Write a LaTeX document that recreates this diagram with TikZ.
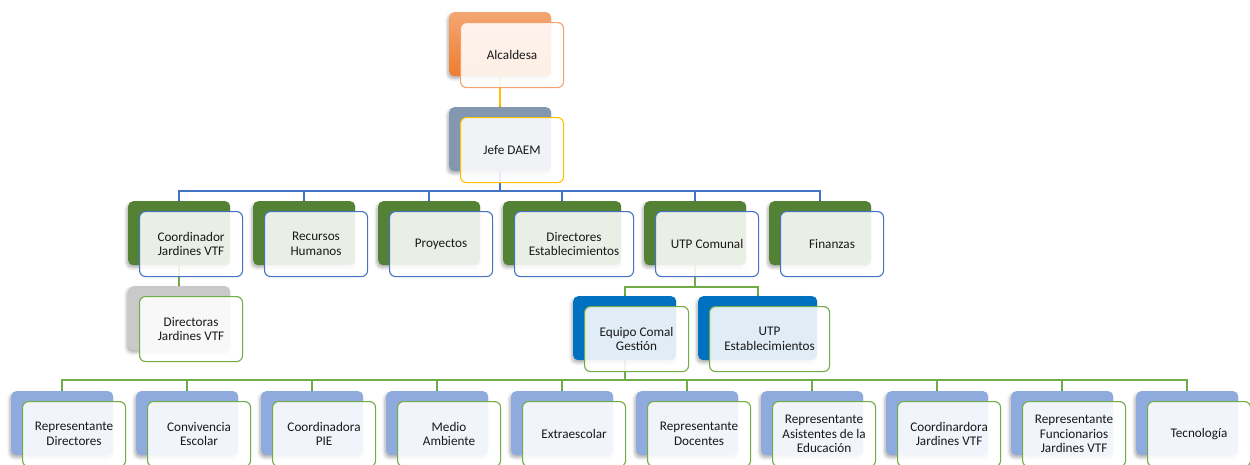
\documentclass[tikz,border=0pt]{standalone}
\usepackage{fontspec}
\setmainfont{Carlito}
\usetikzlibrary{shadows.blur}
\pgfdeclarelayer{bg}
\pgfsetlayers{bg,main}
\definecolor{orD}{HTML}{ED7D31}
\definecolor{orL}{HTML}{F4A672}
\definecolor{orB}{HTML}{F3A06B}
\definecolor{jefeback}{HTML}{8497B0}
\definecolor{gold}{HTML}{FFC000}
\definecolor{grn}{HTML}{548235}
\definecolor{bluB}{HTML}{4472C4}
\definecolor{gry}{HTML}{C9C9C9}
\definecolor{grnB}{HTML}{70AD47}
\definecolor{bluback}{HTML}{0070C0}
\definecolor{ltblu}{HTML}{8FAADC}
\newcommand{\pairbox}[7]{%
  \node[backbox,#5,minimum width=#4pt] (#1B) at (#2,#3) {};
  \node[frontbox,#6,minimum width=#4pt+1pt] (#1F) at ([xshift=11pt,yshift=-10pt]#1B.north west) {#7};
}
\tikzset{
  backbox/.style={anchor=north west, rounded corners=5pt, minimum height=64pt,
    inner sep=0pt, draw=none,
    blur shadow={shadow xshift=-1.5pt, shadow yshift=-2.5pt, shadow blur radius=3pt, shadow opacity=30}},
  frontbox/.style={anchor=north west, rounded corners=6pt, minimum height=65pt,
    inner sep=1pt, fill=white, fill opacity=0.88, text opacity=1, draw opacity=1,
    line width=1.1pt, align=center, text=black!90,
    font=\fontsize{13.2}{14.5}\selectfont},
  bkor/.style={top color=orL, bottom color=orD},
  bkjefe/.style={fill=jefeback},
  bkgrn/.style={fill=grn},
  bkgry/.style={fill=gry},
  bkblu/.style={fill=bluback},
  bkltb/.style={fill=ltblu},
  fror/.style={draw=orB},
  frgold/.style={draw=gold},
  frblu/.style={draw=bluB},
  frgrn/.style={draw=grnB},
  conn/.style={line width=2.3pt},
  cgold/.style={conn, draw=gold},
  cblu/.style={conn, draw=bluB},
  cgrn/.style={conn, draw=grnB},
}
\begin{document}
\begin{tikzpicture}[x=1pt,y=-1pt]
\useasboundingbox (0,0) rectangle (1250,464);
\clip (0,0) rectangle (1250,464);
% top
\pairbox{alc}{449}{12}{102}{bkor}{fror}{Alcaldesa}
\pairbox{jefe}{449}{107}{102}{bkjefe}{frgold}{Jefe DAEM}
% level 2
\pairbox{coord}{128}{201}{102}{bkgrn}{frblu}{Coordinador\\Jardines VTF}
\pairbox{rrhh}{253}{201}{102}{bkgrn}{frblu}{Recursos\\Humanos}
\pairbox{proy}{378}{201}{102}{bkgrn}{frblu}{Proyectos}
\pairbox{dir}{503}{201}{118}{bkgrn}{frblu}{Directores\\Establecimientos}
\pairbox{utp}{644}{201}{102}{bkgrn}{frblu}{UTP Comunal}
\pairbox{fin}{769}{201}{102}{bkgrn}{frblu}{Finanzas}
% level 3
\pairbox{dirj}{128}{286}{102}{bkgry}{frgrn}{Directoras\\Jardines VTF}
\pairbox{eq}{573}{296}{103}{bkblu}{frgrn}{Equipo Comal\\Gestión}
\pairbox{utpe}{698}{296}{119}{bkblu}{frgrn}{UTP\\Establecimientos}
% bottom
\pairbox{b1}{11}{391}{102}{bkltb}{frgrn}{Representante\\Directores}
\pairbox{b2}{136}{391}{102}{bkltb}{frgrn}{Convivencia\\Escolar}
\pairbox{b3}{261}{391}{102}{bkltb}{frgrn}{Coordinadora\\PIE}
\pairbox{b4}{386}{391}{102}{bkltb}{frgrn}{Medio\\Ambiente}
\pairbox{b5}{511}{391}{102}{bkltb}{frgrn}{Extraescolar}
\pairbox{b6}{636}{391}{102}{bkltb}{frgrn}{Representante\\Docentes}
\pairbox{b7}{761}{391}{102}{bkltb}{frgrn}{Representante\\Asistentes de la\\Educación}
\pairbox{b8}{886}{391}{102}{bkltb}{frgrn}{Coordinardora\\Jardines VTF}
\pairbox{b9}{1011}{391}{102}{bkltb}{frgrn}{Representante\\Funcionarios\\Jardines VTF}
\pairbox{b10}{1136}{391}{102}{bkltb}{frgrn}{Tecnología}
% connectors
\begin{pgfonlayer}{bg}
\draw[cgold] (alcB.south) -- (jefeB.north);
\foreach \c in {coord,rrhh,proy,dir,utp,fin}
  \draw[cblu] (jefeB.south) |- ([yshift=10pt]\c B.north) -- (\c B.north);
\draw[cgrn] (coordB.south) -- (dirjB.north);
\foreach \c in {eq,utpe}
  \draw[cgrn] (utpB.south) |- ([yshift=9pt]\c B.north) -- (\c B.north);
\foreach \c in {b1,b2,b3,b4,b5,b6,b7,b8,b9,b10}
  \draw[cgrn] (eqB.south) |- ([yshift=11pt]\c B.north) -- (\c B.north);
\end{pgfonlayer}
\end{tikzpicture}
\end{document}
